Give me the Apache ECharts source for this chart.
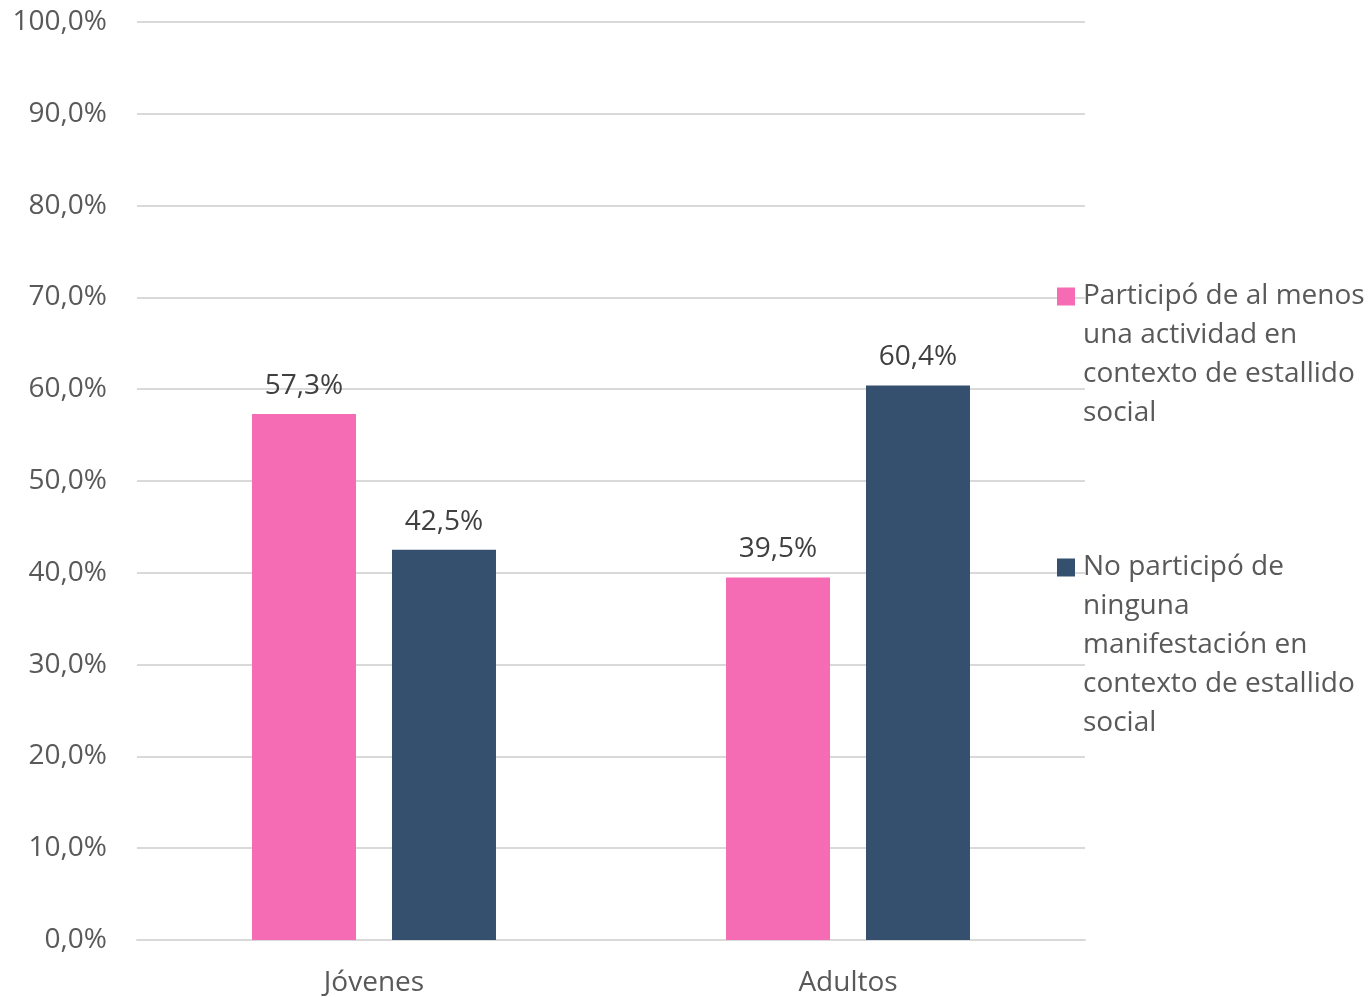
<!DOCTYPE html>
<html>
<head>
<meta charset="utf-8">
<script src="https://cdn.jsdelivr.net/npm/echarts@6/dist/echarts.min.js"></script>
<style>
html,body{margin:0;padding:0;background:#fff;}
#chart{width:1368px;height:997px;}
</style>
</head>
<body>
<div id="chart"></div>
<script>
const categories = ['Jóvenes', 'Adultos'];
const seriesNames = [
  'Participó de al menos una actividad en contexto de estallido social',
  'No participó de ninguna manifestación en contexto de estallido social'
];
const legendLines = [
  ['Participó de al menos', 'una actividad en', 'contexto de estallido', 'social'],
  ['No participó de', 'ninguna', 'manifestación en', 'contexto de estallido', 'social']
];
const participo = [57.3, 39.5];
const noParticipo = [42.5, 60.4];

const FONT = 'Open Sans';
const fmtPct = v => v.toFixed(1).replace('.', ',') + '%';

function legendText(lines) {
  // pad leading blank lines so the icon sits beside the first line
  const pad = lines.length - 1;
  return '\n'.repeat(pad) + lines.join('\n');
}

const chart = echarts.init(document.getElementById('chart'));
const legendCommon = {
  orient: 'vertical',
  left: 1057,
  padding: 0,
  itemWidth: 18,
  itemHeight: 18,
  itemGap: 0,
  icon: 'rect',
  selectedMode: false,
  textStyle: { fontFamily: FONT, fontSize: 28, lineHeight: 39, color: '#595959', padding: [0, 0, 0, 3] }
};
chart.setOption({
  animation: false,
  textStyle: { fontFamily: FONT },
  legend: [
    Object.assign({}, legendCommon, {
      top: 160,
      data: [seriesNames[0]],
      formatter: () => legendText(legendLines[0])
    }),
    Object.assign({}, legendCommon, {
      top: 392,
      data: [seriesNames[1]],
      formatter: () => legendText(legendLines[1])
    })
  ],
  grid: { left: 137, right: 283, top: 22, bottom: 55, containLabel: false },
  xAxis: {
    type: 'category',
    data: categories,
    axisLine: { lineStyle: { color: '#d9d9d9', width: 2 } },
    axisTick: { show: false },
    axisLabel: { fontFamily: FONT, fontSize: 28, color: '#595959', margin: 29 }
  },
  yAxis: {
    type: 'value',
    min: 0,
    max: 100,
    interval: 10,
    axisLine: { show: false },
    axisTick: { show: false },
    splitLine: { lineStyle: { color: '#d9d9d9', width: 2 } },
    axisLabel: { fontFamily: FONT, fontSize: 28, color: '#595959', margin: 30, formatter: fmtPct }
  },
  series: [
    {
      name: seriesNames[0],
      type: 'bar',
      data: participo,
      barWidth: 104,
      barGap: '34.6%',
      itemStyle: { color: '#F56CB4' },
      label: { show: true, position: 'top', distance: 14, fontFamily: FONT, fontSize: 28, color: '#404040', formatter: p => fmtPct(p.value) }
    },
    {
      name: seriesNames[1],
      type: 'bar',
      data: noParticipo,
      barWidth: 104,
      barGap: '34.6%',
      itemStyle: { color: '#35506F' },
      label: { show: true, position: 'top', distance: 14, fontFamily: FONT, fontSize: 28, color: '#404040', formatter: p => fmtPct(p.value) }
    }
  ]
});
</script>
</body>
</html>
